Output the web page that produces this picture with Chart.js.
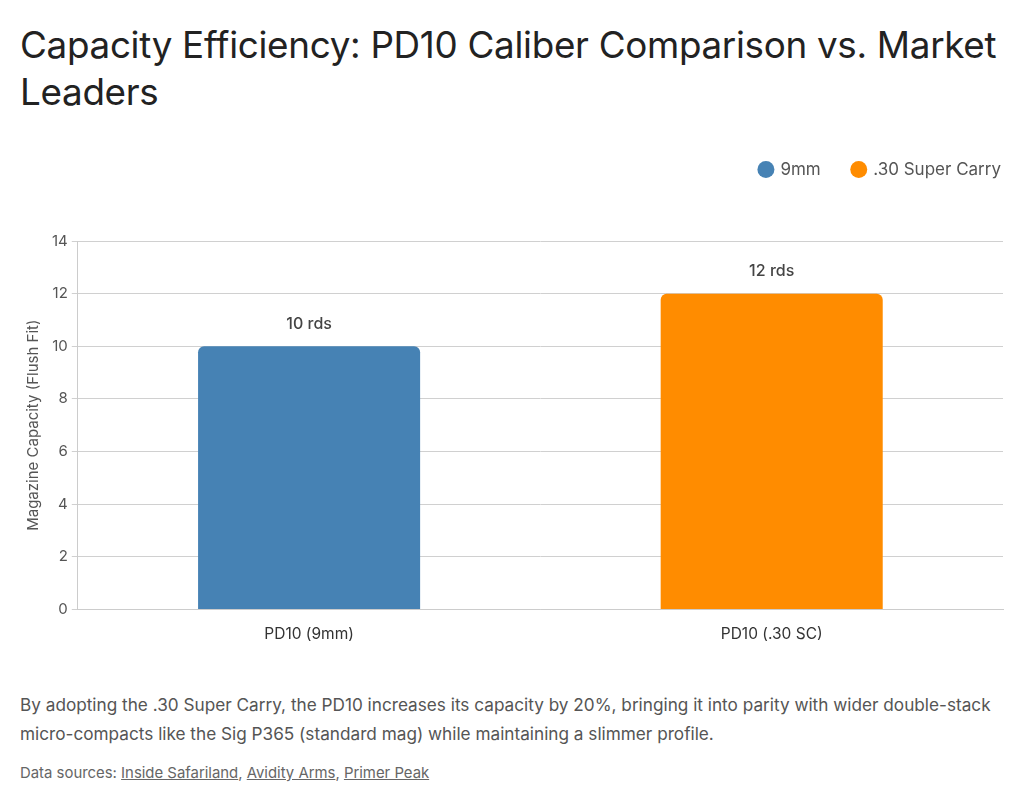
<!DOCTYPE html>
<html>
<head>
<meta charset="utf-8">
<script src="https://cdn.jsdelivr.net/npm/chart.js@4.4.1/dist/chart.umd.min.js"></script>
<style>
  html, body { margin: 0; padding: 0; background: #fff; width: 1024px; height: 805px; overflow: hidden; font-family: Inter, Roboto, sans-serif; }
  h1 { position: absolute; left: 20px; top: 21px; margin: 0; width: 1004px; font-weight: 400; font-size: 36.8px; line-height: 47px; color: #222; letter-spacing: -0.3px; white-space: nowrap; }
  #wrap { position: absolute; left: 20px; top: 129px; width: 985px; height: 531px; }
  p.caption { position: absolute; left: 20px; top: 690px; width: 990px; margin: 0; font-size: 17.2px; line-height: 29px; color: #555; }
  p.sources { position: absolute; left: 20px; top: 764px; margin: 0; font-size: 14.9px; color: #666; }
  p.sources a { color: #666; text-decoration: underline; }
</style>
</head>
<body>
<h1>Capacity Efficiency: PD10 Caliber Comparison vs. Market<br>Leaders</h1>
<div id="wrap"><canvas id="c"></canvas></div>
<p class="caption">By adopting the .30 Super Carry, the PD10 increases its capacity by 20%, bringing it into parity with wider double-stack micro-compacts like the Sig P365 (standard mag) while maintaining a slimmer profile.</p>
<p class="sources">Data sources: <a href="#">Inside Safariland</a>, <a href="#">Avidity Arms</a>, <a href="#">Primer Peak</a></p>
<script>
const categories = ["PD10 (9mm)", "PD10 (.30 SC)"];
const seriesNames = ["9mm", ".30 Super Carry"];
const series9mm = [10, null];
const series30sc = [null, 12];
const valueLabels = ["10 rds", "12 rds"];
const yTicks = [0, 2, 4, 6, 8, 10, 12, 14];

const legendMargin = {
  id: 'legendMargin',
  beforeInit(chart) {
    const origFit = chart.legend.fit;
    chart.legend.fit = function () { origFit.bind(chart.legend)(); this.height += 53; };
  },
  afterLayout(chart) {
    chart.legend.left += 30;
    chart.legend.right += 30;
  }
};

const barLabels = {
  id: 'barLabels',
  afterDatasetsDraw(chart) {
    const ctx = chart.ctx;
    ctx.save();
    ctx.font = '500 16px Inter, sans-serif';
    ctx.fillStyle = '#444';
    ctx.textAlign = 'center';
    ctx.textBaseline = 'middle';
    chart.data.datasets.forEach((ds, di) => {
      const meta = chart.getDatasetMeta(di);
      meta.data.forEach((bar, i) => {
        if (ds.data[i] == null) return;
        ctx.fillText(valueLabels[i], bar.x, bar.y - 22);
      });
    });
    ctx.restore();
  }
};

new Chart(document.getElementById('c'), {
  type: 'bar',
  data: {
    labels: categories,
    datasets: [
      { label: seriesNames[0], data: series9mm, backgroundColor: '#4682B4', borderRadius: { topLeft: 6, topRight: 6 }, borderSkipped: 'start' },
      { label: seriesNames[1], data: series30sc, backgroundColor: '#FF8C00', borderRadius: { topLeft: 6, topRight: 6 }, borderSkipped: 'start' }
    ]
  },
  options: {
    responsive: true,
    maintainAspectRatio: false,
    animation: false,
    skipNull: true,
    datasets: { bar: { categoryPercentage: 0.8, barPercentage: 0.6, skipNull: true } },
    layout: { padding: { bottom: 8, right: 2 } },
    plugins: {
      legend: {
        position: 'top',
        align: 'end',
        labels: { usePointStyle: true, pointStyle: 'circle', boxWidth: 12, boxHeight: 12, padding: 32, color: '#555', font: { family: 'Inter', size: 17 } }
      },
      tooltip: { enabled: false }
    },
    scales: {
      x: {
        grid: { display: false },
        border: { color: '#ccc' },
        ticks: { color: '#333', font: { family: 'Inter', size: 15.5 }, padding: 8 }
      },
      y: {
        min: 0, max: 14,
        afterBuildTicks(scale) { scale.ticks = yTicks.map(v => ({ value: v })); },
        grid: { color: '#d0d0d0', drawTicks: true, tickLength: 6 },
        border: { color: '#ccc' },
        ticks: { color: '#555', font: { family: 'Inter', size: 15 }, padding: 4 },
        title: { display: true, text: 'Magazine Capacity (Flush Fit)', color: '#555', font: { family: 'Inter', size: 15 }, padding: { bottom: 6 } }
      }
    }
  },
  plugins: [legendMargin, barLabels]
});
</script>
</body>
</html>
